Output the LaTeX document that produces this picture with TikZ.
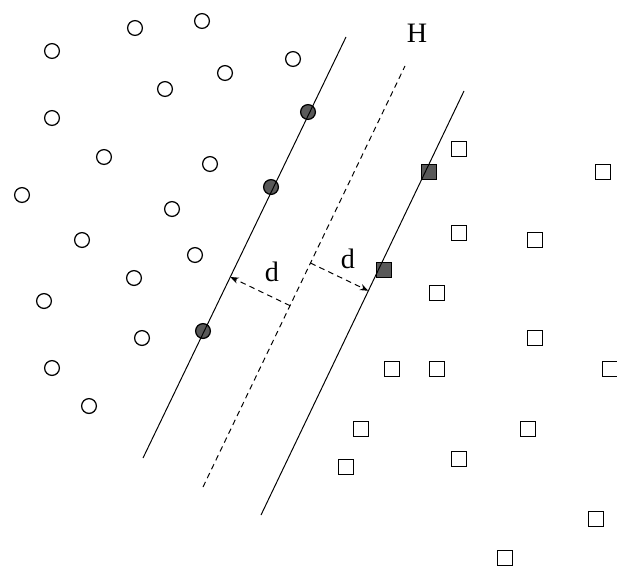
\documentclass[tikz,border=0pt]{standalone}
\usepackage{fontspec}
\setmainfont{Liberation Serif}
\usetikzlibrary{arrows.meta,calc}

\tikzset{
  sample/.style={draw, line width=0.9pt, inner sep=0pt, minimum size=0.37cm},
  cls/.style={sample, circle},
  sqr/.style={sample, rectangle},
  sv/.style={fill=black!65},
  margin/.style={dash pattern=on 4pt off 3pt, line width=0.7pt},
  lbl/.style={font=\fontsize{20}{24}\selectfont},
}

\begin{document}
\begin{tikzpicture}[x=0.025cm, y=-0.025cm]
    \useasboundingbox (0,0) rectangle (617,566);

    % Class one (circles)
    \foreach \x/\y [count=\i] in {52/51, 135/28, 202/21, 293/59, 225/73, 165/89,
        52/118, 104/157, 210/164, 22/195, 172/209, 82/240, 195/255, 134/278,
        44/301, 142/338, 52/368, 89/406}
        \node[cls] (c\i) at (\x,\y) {};

    % Class two (squares)
    \foreach \x/\y [count=\i] in {459/149, 603/172, 459/233, 535/240, 437/293,
        535/338, 392/369, 437/369, 610/369, 361/429, 528/429, 346/467,
        459/459, 596/519, 505/558}
        \node[sqr] (q\i) at (\x,\y) {};

    % Support vectors
    \node[cls, sv] (s1) at (308,112) {};
    \node[cls, sv] (s2) at (271,187) {};
    \node[cls, sv] (s3) at (203,331) {};
    \node[sqr, sv] (s4) at (429,172) {};
    \node[sqr, sv] (s5) at (384,270) {};

    % Hyperplanes
    \coordinate (L1a) at (143,458);
    \coordinate (L1b) at (346,37);
    \coordinate (Ha) at (203,487);
    \coordinate (Hb) at (405,66);
    \coordinate (L2a) at (261,515);
    \coordinate (L2b) at (464,91);
    \draw[line width=0.7pt] (L1a) -- (L1b);
    \draw[margin] (Ha) -- (Hb);
    \draw[line width=0.7pt] (L2a) -- (L2b);
    \node[lbl] (H) at (417,33) {H};

    % Margin distances
    \coordinate (f1) at ($(L1a)!0.43!(L1b)$);
    \coordinate (g1) at ($(Ha)!(f1)!(Hb)$);
    \coordinate (g2) at ($(Ha)!0.532!(Hb)$);
    \coordinate (f2) at ($(L2a)!(g2)!(L2b)$);
    \draw[margin, -{Stealth[length=6pt, width=4.5pt]}] (g1) -- (f1);
    \draw[margin, -{Stealth[length=6pt, width=4.5pt]}] (g2) -- (f2);
    \node[lbl] (d1) at (272,272) {d};
    \node[lbl] (d2) at (348,259) {d};
\end{tikzpicture}
\end{document}
